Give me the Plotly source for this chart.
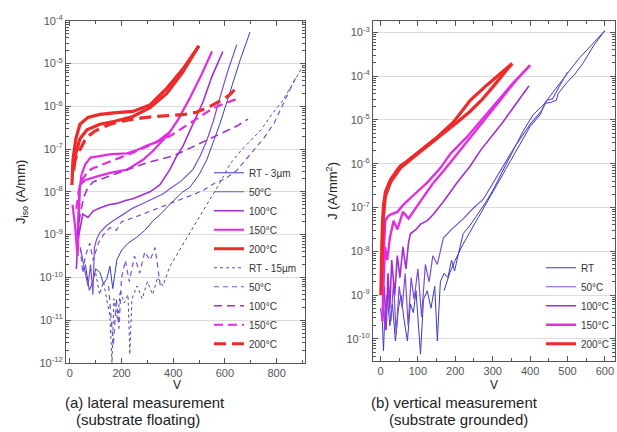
import plotly.graph_objects as go
import numpy as np

# ---------------- Panel (a): lateral measurement (J_iso, A/mm) ----------------
# values are log10(J) read from the picture
a_rt3_v = [60, 75, 89, 100, 116, 130, 143, 155, 166, 175, 182, 201, 225, 259, 290, 321, 355, 387, 437, 464, 500, 530, 555, 580, 605, 631, 660, 697]
a_rt3_e = [-9.7, -10.3, -10.1, -9.8, -9.88, -10.15, -10.03, -9.74, -10.26, -9.9, -9.58, -9.36, -9.2, -9.06, -8.9, -8.68, -8.5, -8.29, -8.0, -7.9, -7.6, -7.25, -6.85, -6.42, -5.95, -5.45, -4.9, -4.27]

a_50s_v = [40, 50, 60, 70, 80, 89, 95, 104, 116, 140, 166, 200, 244, 280, 321, 360, 387, 430, 476, 505, 530, 555, 580, 610, 646]
a_50s_e = [-9.3, -9.65, -9.9, -10.2, -9.7, -10.4, -9.3, -9.1, -8.95, -8.8, -8.68, -8.55, -8.38, -8.28, -8.16, -8.05, -7.93, -7.75, -7.48, -7.15, -6.8, -6.35, -5.81, -5.2, -4.56]

a_100s_v = [25, 30, 38, 50, 70, 90, 116, 150, 182, 215, 244, 280, 310, 348, 387, 410, 437, 470, 515, 550, 592]
a_100s_e = [-9.8, -9.2, -8.9, -8.52, -8.6, -8.45, -8.38, -8.3, -8.27, -8.2, -8.16, -8.08, -8.0, -7.84, -7.48, -7.2, -6.94, -6.5, -5.9, -5.3, -4.72]

a_150s_v = [10, 20, 28, 32, 36, 45, 60, 80, 116, 160, 221, 260, 298, 330, 348, 387, 420, 464, 510, 550]
a_150s_e = [-8.3, -8.8, -9.4, -8.6, -8.0, -7.6, -7.35, -7.2, -7.16, -7.12, -7.1, -7.02, -6.92, -6.85, -6.78, -6.6, -6.3, -5.81, -5.25, -4.72]
a_150s_rv = [30, 34, 39, 60, 90, 116, 160, 221, 283, 320, 348, 387]
a_150s_re = [-9.5, -8.6, -7.84, -7.72, -7.66, -7.62, -7.55, -7.48, -7.25, -7.05, -6.87, -6.62]

a_200s_v = [8, 12, 23, 39, 70, 116, 180, 244, 310, 375, 437, 499]
a_200s_e = [-7.84, -7.25, -6.76, -6.42, -6.26, -6.19, -6.15, -6.12, -5.97, -5.58, -5.13, -4.59]
a_200s_rv = [499, 437, 375, 310, 244, 174, 116, 66, 39, 23, 15]
a_200s_re = [-4.59, -5.2, -5.7, -6.03, -6.24, -6.35, -6.42, -6.55, -6.76, -7.1, -7.5]

a_rt15_v = [100, 115, 130, 145, 155, 163, 170, 185, 195, 210, 225, 232, 240, 260, 280, 300, 320, 340, 360, 387, 420, 460, 500, 540, 580, 620, 660, 700, 740, 780, 820, 860, 902]
a_rt15_e = [-9.9, -10.4, -10.1, -10.6, -10.9, -12.0, -10.5, -11.0, -10.3, -10.6, -10.4, -11.8, -10.5, -10.2, -10.5, -10.1, -10.4, -10.0, -10.2, -9.74, -9.4, -9.0, -8.6, -8.2, -7.8, -7.35, -7.05, -6.8, -6.55, -6.2, -5.9, -5.5, -5.06]

a_50d_v = [40, 50, 60, 77, 90, 110, 130, 155, 180, 200, 244, 290, 337, 399, 440, 476, 520, 560, 600, 646, 700, 750, 790, 830, 877]
a_50d_e = [-9.3, -9.9, -9.5, -9.2, -9.6, -9.2, -9.0, -8.84, -8.9, -8.7, -8.61, -8.5, -8.38, -8.23, -8.15, -8.07, -7.95, -7.8, -7.7, -7.5, -7.1, -6.75, -6.4, -5.9, -5.29]
a_50d_rv = [150, 160, 168, 180, 190, 200, 215, 230, 250, 270, 290, 310, 330, 350]
a_50d_re = [-10.2, -11.0, -11.6, -10.5, -11.2, -10.0, -9.6, -10.1, -9.5, -9.9, -9.4, -9.6, -9.3, -10.2]

a_100d_v = [30, 40, 55, 70, 89, 140, 194, 250, 298, 350, 399, 450, 503, 555, 607, 650, 689]
a_100d_e = [-9.0, -8.5, -8.1, -7.9, -7.77, -7.66, -7.55, -7.43, -7.32, -7.24, -7.16, -7.02, -6.87, -6.72, -6.58, -6.45, -6.3]

a_150d_v = [25, 35, 50, 70, 89, 140, 194, 250, 298, 340, 387, 430, 476, 515, 553, 600, 655]
a_150d_e = [-8.4, -7.95, -7.7, -7.52, -7.45, -7.32, -7.2, -7.07, -6.95, -6.83, -6.7, -6.53, -6.35, -6.2, -6.05, -5.93, -5.81]

a_200d_v = [12, 20, 31, 45, 58, 75, 97, 125, 155, 190, 232, 280, 329, 390, 445, 490, 522, 550, 580, 615, 646]
a_200d_e = [-7.43, -7.25, -7.1, -6.95, -6.8, -6.68, -6.58, -6.5, -6.42, -6.36, -6.31, -6.27, -6.24, -6.21, -6.19, -6.14, -6.06, -5.98, -5.88, -5.75, -5.56]

# ---------------- Panel (b): vertical measurement (J, A/mm^2) ----------------
b_rt_v = [0, 5, 8, 12, 18, 25, 32, 40, 48, 55, 62, 72, 80, 88, 95, 103, 107, 115, 125, 135, 145, 152, 160, 170, 180, 190, 198, 210, 221, 240, 259, 280, 301, 325, 347, 365, 381, 408, 435, 461, 485, 507, 530, 552, 575, 600]
b_rt_e = [-9.3, -9.6, -10.27, -9.4, -9.0, -9.7, -9.2, -10.05, -9.3, -9.0, -9.5, -10.05, -9.2, -9.4, -8.9, -9.8, -10.35, -9.1, -8.9, -9.3, -8.8, -10.05, -8.7, -8.5, -8.6, -8.2, -8.45, -8.0, -7.6, -7.4, -7.17, -6.9, -6.6, -6.2, -5.8, -5.5, -5.26, -4.88, -4.66, -4.37, -4.1, -3.84, -3.6, -3.4, -3.2, -2.96]
b_rt_rv = [600, 570, 541, 520, 498, 475, 470, 455, 440, 427, 400, 380, 360, 340, 320, 300, 280, 260, 240, 220, 200, 185, 170]
b_rt_re = [-2.96, -3.3, -3.71, -3.95, -4.15, -4.4, -4.55, -4.6, -4.62, -4.88, -5.15, -5.45, -5.75, -6.05, -6.35, -6.65, -6.95, -7.25, -7.55, -7.85, -8.2, -8.5, -8.9]

b_50_v = [5, 12, 20, 28, 35, 42, 50, 58, 66, 74, 82, 90, 100, 110, 120, 130, 140, 152, 168, 190, 221, 250, 275, 300, 330, 360, 400, 430, 445, 460, 480, 500]
b_50_e = [-9.0, -9.8, -8.9, -9.6, -8.7, -9.9, -8.8, -9.3, -8.5, -9.7, -8.6, -9.1, -8.4, -9.5, -8.3, -8.7, -8.1, -8.3, -7.7, -7.5, -7.26, -7.0, -6.81, -6.45, -6.0, -5.6, -5.1, -4.8, -4.55, -4.52, -4.2, -3.91]

b_100_v = [5, 10, 15, 20, 25, 30, 38, 45, 52, 60, 68, 75, 80, 95, 107, 125, 141, 168, 205, 240, 267, 300, 328, 365, 397]
b_100_e = [-9.5, -8.8, -9.8, -8.5, -9.3, -8.2, -9.0, -8.1, -8.6, -7.9, -8.4, -7.8, -7.6, -7.5, -7.38, -7.3, -7.16, -6.87, -6.43, -6.05, -5.7, -5.35, -5.04, -4.6, -4.22]

b_150_v = [3, 8, 13, 20, 27, 45, 61, 88, 125, 160, 187, 230, 267, 310, 355, 400]
b_150_e = [-9.0, -8.2, -7.3, -7.2, -7.16, -7.1, -6.94, -6.72, -6.43, -6.1, -5.77, -5.4, -5.04, -4.6, -4.15, -3.75]
b_150_rv = [400, 360, 320, 280, 240, 200, 170, 140, 115, 95, 75, 60, 45, 35, 25, 18, 12, 8, 5]
b_150_re = [-3.75, -4.12, -4.55, -4.98, -5.4, -5.85, -6.15, -6.45, -6.75, -7.0, -7.25, -7.1, -7.5, -7.3, -7.7, -8.2, -7.9, -8.8, -9.6]

b_200_v = [1, 2, 3, 5, 8, 13, 20, 27, 40, 53, 70, 88, 120, 152, 195, 240, 285, 320, 352]
b_200_e = [-9.0, -8.5, -7.9, -7.4, -6.95, -6.65, -6.5, -6.36, -6.2, -6.05, -5.95, -5.83, -5.6, -5.39, -5.05, -4.55, -4.2, -3.95, -3.71]
b_200_rv = [352, 330, 300, 270, 240, 210, 180, 150, 120, 88, 53, 27, 13, 8, 5, 3]
b_200_re = [-3.71, -3.95, -4.25, -4.55, -4.8, -5.02, -5.22, -5.42, -5.62, -5.85, -6.1, -6.42, -6.75, -7.2, -7.8, -8.6]

# tick labels
a_xticks = [0, 200, 400, 600, 800]
a_yexp = [-12, -11, -10, -9, -8, -7, -6, -5, -4]
b_xticks = [0, 100, 200, 300, 400, 500, 600]
b_yexp = [-10, -9, -8, -7, -6, -5, -4, -3]

C_RT = "#3a3ac4"
C_50 = "#7a4ed8"
C_100 = "#a22ed6"
C_150 = "#e22ee0"
C_200 = "#ee2a2a"
C_RT15 = "#4a4aa8"

fig = go.Figure()


def add(xs, es, name, color, width, dash, xa, ya, legend, show=True, group=None):
    fig.add_trace(go.Scatter(
        x=xs, y=10.0 ** np.array(es), mode="lines", name=name,
        line=dict(color=color, width=width, dash=dash),
        xaxis=xa, yaxis=ya, legend=legend, showlegend=show,
        legendgroup=group or name + xa))


D50 = "5px,4px"
D100 = "8px,5px"
D150 = "9px,5px"
D200 = "12px,6px"

# panel a solid (3 um)
add(a_rt3_v, a_rt3_e, "RT - 3µm", C_RT, 1, "solid", "x", "y", "legend")
add(a_50s_v, a_50s_e, "50°C", C_50, 1.2, "solid", "x", "y", "legend")
add(a_100s_v, a_100s_e, "100°C", C_100, 1.6, "solid", "x", "y", "legend")
add(a_150s_v, a_150s_e, "150°C", C_150, 2.2, "solid", "x", "y", "legend", group="a150")
add(a_150s_rv, a_150s_re, "150°C", C_150, 2.2, "solid", "x", "y", "legend", show=False, group="a150")
add(a_200s_v, a_200s_e, "200°C", C_200, 3.2, "solid", "x", "y", "legend", group="a200")
add(a_200s_rv, a_200s_re, "200°C", C_200, 3.2, "solid", "x", "y", "legend", show=False, group="a200")
# panel a dashed (15 um)
add(a_rt15_v, a_rt15_e, "RT - 15µm", C_RT15, 1, "dot", "x", "y", "legend")
add(a_50d_v, a_50d_e, "50°C ", C_50, 1.2, D50, "x", "y", "legend", group="a50d")
add(a_50d_rv, a_50d_re, "50°C ", C_50, 1.2, D50, "x", "y", "legend", show=False, group="a50d")
add(a_100d_v, a_100d_e, "100°C ", C_100, 1.6, D100, "x", "y", "legend")
add(a_150d_v, a_150d_e, "150°C ", C_150, 2.2, D150, "x", "y", "legend")
add(a_200d_v, a_200d_e, "200°C ", C_200, 3.2, D200, "x", "y", "legend")

# panel b
add(b_rt_v, b_rt_e, "RT", C_RT, 1, "solid", "x2", "y2", "legend2", group="bRT")
add(b_rt_rv, b_rt_re, "RT", C_RT, 1, "solid", "x2", "y2", "legend2", show=False, group="bRT")
add(b_50_v, b_50_e, "50°C", C_50, 1.2, "solid", "x2", "y2", "legend2")
add(b_100_v, b_100_e, "100°C", C_100, 1.6, "solid", "x2", "y2", "legend2")
add(b_150_v, b_150_e, "150°C", C_150, 2.4, "solid", "x2", "y2", "legend2", group="b150")
add(b_150_rv, b_150_re, "150°C", C_150, 2.4, "solid", "x2", "y2", "legend2", show=False, group="b150")
add(b_200_v, b_200_e, "200°C", C_200, 3.2, "solid", "x2", "y2", "legend2", group="b200")
add(b_200_rv, b_200_re, "200°C", C_200, 3.2, "solid", "x2", "y2", "legend2", show=False, group="b200")

W, H = 617, 432


def PX(p):
    return p / W


def PY(p):
    return 1 - p / H


FONT = "Liberation Sans, Arial, sans-serif"
axcol = "#555555"
tickfont = dict(family=FONT, size=11, color="#555555")


def xax(domain, rng, ticks, dminor, anchor):
    return dict(domain=domain, range=rng, tickvals=ticks, ticktext=[str(t) for t in ticks],
                showline=True, linecolor=axcol, linewidth=1, mirror="allticks",
                ticks="inside", ticklen=5, tickcolor=axcol, showgrid=False, zeroline=False,
                tickfont=tickfont, anchor=anchor,
                minor=dict(ticks="inside", ticklen=3, dtick=dminor, tickcolor=axcol, showgrid=False))


def yax(domain, rng, exps, anchor, title, standoff):
    return dict(domain=domain, type="log", range=rng,
                tickvals=[10.0 ** e for e in exps],
                ticktext=["10<sup>%d</sup>" % e for e in exps],
                showline=True, linecolor=axcol, linewidth=1, mirror="allticks",
                ticks="inside", ticklen=5, tickcolor=axcol,
                showgrid=True, gridcolor="#dcdcdc", gridwidth=1, zeroline=False,
                tickfont=tickfont, anchor=anchor,
                minor=dict(ticks="inside", ticklen=3, dtick="D1", tickcolor=axcol, showgrid=False),
                title=dict(text=title, font=dict(family=FONT, size=13, color="#222222"), standoff=standoff))


cap = dict(family=FONT, size=15, color="#222222")
vfont = dict(family=FONT, size=12, color="#222222")

fig.update_layout(
    width=W, height=H, margin=dict(l=0, r=0, t=0, b=0),
    paper_bgcolor="white", plot_bgcolor="white",
    font=dict(family=FONT, color="#222222"),
    xaxis=xax([PX(66), PX(305)], [-15, 910], a_xticks, 100, "y"),
    yaxis=yax([PY(367), PY(13)], [-12.003, -3.997], a_yexp, "x", "J<sub>iso</sub> (A/mm)", 10),
    xaxis2=xax([PX(373), PX(615)], [-20, 627], b_xticks, 50, "y2"),
    yaxis2=yax([PY(365), PY(13)], [-10.51, -2.73], b_yexp, "x2", "J (A/mm<sup>2</sup>)", 5),
    legend=dict(x=PX(302), xanchor="right", y=PY(362), yanchor="bottom",
                bgcolor="rgba(0,0,0,0)", font=dict(family=FONT, size=10, color="#333333"),
                itemwidth=30, tracegroupgap=0, traceorder="normal"),
    legend2=dict(x=PX(614), xanchor="right", y=PY(362), yanchor="bottom",
                 bgcolor="rgba(0,0,0,0)", font=dict(family=FONT, size=10, color="#333333"),
                 itemwidth=30, tracegroupgap=0, traceorder="normal"),
    annotations=[
        dict(text="V", x=PX(177), y=PY(390), xref="paper", yref="paper", xanchor="center",
             yanchor="middle", showarrow=False, font=vfont),
        dict(text="V", x=PX(494), y=PY(390), xref="paper", yref="paper", xanchor="center",
             yanchor="middle", showarrow=False, font=vfont),
        dict(text="(a) lateral measurement", x=PX(145), y=PY(408), xref="paper", yref="paper",
             xanchor="center", yanchor="middle", showarrow=False, font=cap),
        dict(text="(substrate floating)", x=PX(138), y=PY(425), xref="paper", yref="paper",
             xanchor="center", yanchor="middle", showarrow=False, font=cap),
        dict(text="(b) vertical measurement", x=PX(454), y=PY(408), xref="paper", yref="paper",
             xanchor="center", yanchor="middle", showarrow=False, font=cap),
        dict(text="(substrate grounded)", x=PX(458), y=PY(425), xref="paper", yref="paper",
             xanchor="center", yanchor="middle", showarrow=False, font=cap),
    ],
)

# remove the browser's default 8 px body margin so the 617x432 figure fills the window
fig.write_html("out.html", config={"displayModeBar": False},
               post_script="document.body.style.margin='0px';")
